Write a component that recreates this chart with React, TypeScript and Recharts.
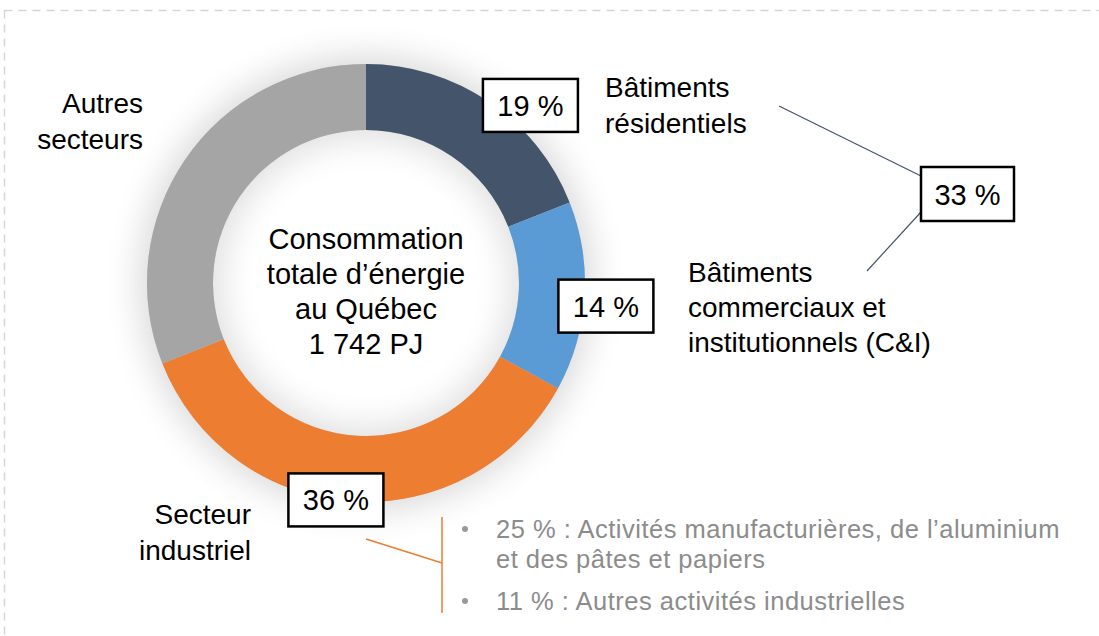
import React from "react";
import { PieChart, Pie, Cell } from "recharts";

// sectors, clockwise from 12 o'clock
const SECTORS = ["Bâtiments résidentiels", "Bâtiments C&I", "Secteur industriel", "Autres secteurs"];
const SHARES = [19, 14, 36, 31];
const SHOW_BOX = [true, true, true, false];

const INDUSTRY_DETAIL = [
  ["25 % : Activités manufacturières, de l’aluminium", "et des pâtes et papiers"],
  ["11 % : Autres activités industrielles"],
];
const CENTER_LINES = ["Consommation", "totale d’énergie", "au Québec", "1 742 PJ"];

const COLORS = ["#44546A", "#5B9BD5", "#ED7D31", "#A5A5A5"];

// label box placement: angle nudge (deg) + radius
const BOX_PLACE = [
  { dA: -8.6, r: 242 },
  { dA: -1.9, r: 241 },
  { dA: -4.3, r: 219 },
  { dA: 0, r: 0 },
];

const W = 1099;
const H = 636;
const CX = 366;
const CY = 283;
const R_IN = 153;
const R_OUT = 219;
const FONT = "Arial, 'Liberation Sans', sans-serif";
const RAD = Math.PI / 180;

const data = SECTORS.map((name, i) => ({ name, value: SHARES[i] }));
const buildings = SHARES[0] + SHARES[1];

const Box = ({ x, y, text, w = 95, h = 53 }: { x: number; y: number; text: string; w?: number; h?: number }) => (
  <g>
    <rect x={x - w / 2} y={y - h / 2} width={w} height={h} fill="#fff" stroke="#000" strokeWidth={2.5} />
    <text x={x} y={y + 10.5} textAnchor="middle" fontSize={29} fontFamily={FONT} fill="#000">
      {text}
    </text>
  </g>
);

const renderBox = (props: any) => {
  const { cx, cy, midAngle, index, value } = props;
  if (!SHOW_BOX[index]) return null;
  const p = BOX_PLACE[index];
  const a = (midAngle + p.dA) * RAD;
  const x = cx + p.r * Math.cos(a);
  const y = cy - p.r * Math.sin(a);
  return <Box key={index} x={x} y={y} text={`${value} %`} />;
};

const Lines = ({ x, y, lines, anchor, step = 35.5, size = 28, color = "#000", spacing = 0 }: any) => (
  <text x={x} y={y} textAnchor={anchor} fontSize={size} fontFamily={FONT} fill={color} letterSpacing={spacing}>
    {lines.map((l: string, i: number) => (
      <tspan key={i} x={x} dy={i === 0 ? 0 : step}>{l}</tspan>
    ))}
  </text>
);

export default function App() {
  return (
    <div style={{ position: "absolute", left: 0, top: 0, width: W, height: H, background: "#fff", overflow: "hidden" }}>
      {/* soft shadow around the ring and inside the hole */}
      <div style={{
        position: "absolute", left: CX - R_OUT, top: CY - R_OUT, width: R_OUT * 2, height: R_OUT * 2,
        borderRadius: "50%", background: "#ccc", boxShadow: "0 0 34px 8px rgba(0,0,0,0.15)",
      }} />
      <div style={{
        position: "absolute", left: CX - R_IN, top: CY - R_IN, width: R_IN * 2, height: R_IN * 2,
        borderRadius: "50%", background: "#fff", boxShadow: "inset 0 0 34px 8px rgba(0,0,0,0.13)",
      }} />

      <div style={{ position: "absolute", left: 0, top: 0 }}>
        <PieChart width={W} height={H} margin={{ top: 0, right: 0, bottom: 0, left: 0 }}>
          <Pie
            data={data}
            dataKey="value"
            cx={CX}
            cy={CY}
            innerRadius={R_IN}
            outerRadius={R_OUT}
            startAngle={90}
            endAngle={-270}
            stroke="none"
            label={renderBox}
            labelLine={false}
            isAnimationActive={false}
          >
            {data.map((d, i) => (
              <Cell key={d.name} fill={COLORS[i]} />
            ))}
          </Pie>
        </PieChart>
      </div>

      <svg width={W} height={H} style={{ position: "absolute", left: 0, top: 0, pointerEvents: "none" }}>
        {/* dashed frame */}
        <rect x={4.5} y={10.5} width={W + 20} height={H + 20} fill="none" stroke="#d6d6d6" strokeWidth={1.5} strokeDasharray="8 6" />

        <Lines x={CX} y={249} lines={CENTER_LINES} anchor="middle" step={35} size={29} />
        <Lines x={143} y={113} lines={["Autres", "secteurs"]} anchor="end" />
        <Lines x={605} y={97} lines={["Bâtiments", "résidentiels"]} anchor="start" />
        <Lines x={688} y={282} lines={["Bâtiments", "commerciaux et", "institutionnels (C&I)"]} anchor="start" step={35} />
        <Lines x={251} y={524} lines={["Secteur", "industriel"]} anchor="end" />

        {/* buildings total */}
        <line x1={779} y1={106} x2={921} y2={176} stroke="#44546A" strokeWidth={1.2} />
        <line x1={921} y1={212} x2={867} y2={271} stroke="#44546A" strokeWidth={1.2} />
        <Box x={967.5} y={194} text={`${buildings} %`} w={93} h={54} />

        {/* industry breakdown */}
        <line x1={366} y1={539} x2={442} y2={563} stroke="#ED7D31" strokeWidth={1.5} />
        <line x1={442} y1={517} x2={442} y2={613} stroke="#ED7D31" strokeWidth={1.5} />
        {INDUSTRY_DETAIL.map((lines, i) => (
          <g key={i}>
            <circle cx={465} cy={(i === 0 ? 538 : 610) - 9} r={3} fill="#9a9a9a" />
            <Lines x={496} y={i === 0 ? 538 : 610} lines={lines} anchor="start" size={25.5} step={30} color="#8c8c8c" spacing={0.5} />
          </g>
        ))}
      </svg>
    </div>
  );
}
